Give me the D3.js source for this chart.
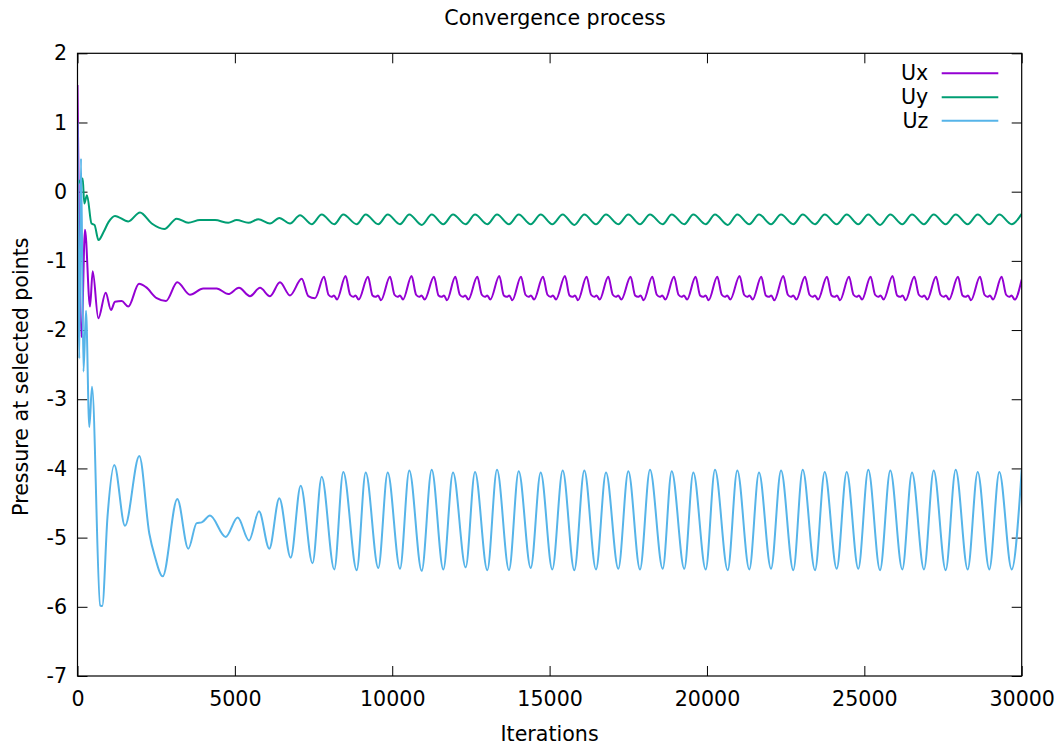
<!DOCTYPE html>
<html><head><meta charset="utf-8">
<script src="https://cdn.jsdelivr.net/npm/d3@7"></script>
<style>
body{margin:0;background:#fff}
svg{display:block}
text{font-family:"DejaVu Sans",sans-serif}
</style>
</head><body>
<svg id="chart" width="1062" height="746"></svg>
<script>
// ---------- data ----------
const xTickValues = [0, 5000, 10000, 15000, 20000, 25000, 30000];
const yTickValues = [-7, -6, -5, -4, -3, -2, -1, 0, 1, 2];
const seriesNames = ["Ux", "Uy", "Uz"];
const seriesColors = ["#9400d3", "#009e73", "#56b4e9"];
const chartTitle = "Convergence process";
const xTitle = "Iterations";
const yTitle = "Pressure at selected points";

// [iteration, value]
const uxPoints = [
  [0,1.54],[127,-2.1],[238,-0.55],[397,-1.66],[483,-1.15],[661,-1.83],[896,-1.46],[1064,-1.71],
  [1191,-1.59],[1404,-1.58],[1614,-1.66],[1954,-1.33],[2176,-1.38],[2516,-1.54],[2812,-1.58],
  [3171,-1.31],[3574,-1.49],[3997,-1.40],[4423,-1.40],[4791,-1.48],[5131,-1.39],[5481,-1.51],
  [5799,-1.39],[6116,-1.51],[6434,-1.31],[6752,-1.50],[7124,-1.26],[7333,-1.51],[7546,-1.54],
  [7832,-1.23],[7975,-1.49],[8070,-1.52],[8150,-1.50],[8245,-1.56],
  [8518,-1.22],[8661,-1.49],[8756,-1.52],[8836,-1.50],[8931,-1.56],
  [9230,-1.23],[9373,-1.50],[9468,-1.52],[9548,-1.50],[9643,-1.57],
  [9929,-1.23],[10072,-1.49],[10167,-1.52],[10247,-1.50],[10342,-1.56],
  [10615,-1.22],[10758,-1.49],[10853,-1.52],[10933,-1.50],[11028,-1.56],
  [11327,-1.23],[11470,-1.50],[11565,-1.52],[11645,-1.50],[11740,-1.57],
  [12004,-1.23],[12147,-1.49],[12242,-1.52],[12322,-1.50],[12417,-1.56],
  [12703,-1.23],[12846,-1.49],[12941,-1.52],[13021,-1.50],[13116,-1.56],
  [13402,-1.22],[13545,-1.50],[13640,-1.52],[13720,-1.50],[13815,-1.57],
  [14091,-1.23],[14234,-1.49],[14329,-1.52],[14409,-1.50],[14504,-1.56],
  [14790,-1.23],[14933,-1.49],[15028,-1.52],[15108,-1.50],[15203,-1.56],
  [15489,-1.22],[15632,-1.50],[15727,-1.52],[15807,-1.50],[15902,-1.57],
  [16176,-1.23],[16319,-1.49],[16414,-1.52],[16494,-1.50],[16589,-1.56],
  [16865,-1.23],[17008,-1.49],[17103,-1.52],[17183,-1.50],[17278,-1.56],
  [17574,-1.23],[17717,-1.50],[17812,-1.52],[17892,-1.50],[17987,-1.57],
  [18263,-1.23],[18406,-1.49],[18501,-1.52],[18581,-1.50],[18676,-1.56],
  [18953,-1.23],[19096,-1.49],[19191,-1.52],[19271,-1.50],[19366,-1.56],
  [19639,-1.23],[19782,-1.50],[19877,-1.52],[19957,-1.50],[20052,-1.57],
  [20328,-1.23],[20471,-1.49],[20566,-1.52],[20646,-1.50],[20741,-1.56],
  [21037,-1.22],[21180,-1.49],[21275,-1.52],[21355,-1.50],[21450,-1.56],
  [21726,-1.23],[21869,-1.50],[21964,-1.52],[22044,-1.50],[22139,-1.57],
  [22426,-1.22],[22569,-1.49],[22664,-1.52],[22744,-1.50],[22839,-1.56],
  [23115,-1.23],[23258,-1.49],[23353,-1.52],[23433,-1.50],[23528,-1.56],
  [23814,-1.23],[23957,-1.50],[24052,-1.52],[24132,-1.50],[24227,-1.57],
  [24513,-1.23],[24656,-1.49],[24751,-1.52],[24831,-1.50],[24926,-1.56],
  [25199,-1.23],[25342,-1.49],[25437,-1.52],[25517,-1.50],[25612,-1.56],
  [25898,-1.22],[26041,-1.50],[26136,-1.52],[26216,-1.50],[26311,-1.57],
  [26588,-1.23],[26731,-1.49],[26826,-1.52],[26906,-1.50],[27001,-1.56],
  [27277,-1.23],[27420,-1.49],[27515,-1.52],[27595,-1.50],[27690,-1.56],
  [27976,-1.23],[28119,-1.50],[28214,-1.52],[28294,-1.50],[28389,-1.57],
  [28675,-1.23],[28818,-1.49],[28913,-1.52],[28993,-1.50],[29088,-1.56],
  [29362,-1.23],[29505,-1.49],[29600,-1.52],[29680,-1.50],[29775,-1.56],
  [30000,-1.27]
];

const uyPoints = [
  [0,0.10],[165,0.19],[216,-0.17],[302,-0.05],[445,-0.46],[540,-0.48],[667,-0.70],[832,-0.58],
  [985,-0.44],[1191,-0.35],[1614,-0.43],[1986,-0.30],[2358,-0.46],[2758,-0.54],[3152,-0.39],
  [3520,-0.45],[3892,-0.41],[4369,-0.41],[4791,-0.45],[5058,-0.41],[5427,-0.45],[5745,-0.40],
  [6116,-0.46],[6412,-0.38],[6752,-0.46],[7070,-0.34],[7441,-0.47],[7759,-0.33],
  [8159,-0.47],[8445,-0.33],[8871,-0.47],[9157,-0.33],[9557,-0.47],[9856,-0.33],
  [10247,-0.47],[10542,-0.33],[10936,-0.48],[11254,-0.33],[11623,-0.47],[11931,-0.33],
  [12334,-0.47],[12630,-0.33],[13021,-0.47],[13329,-0.33],[13710,-0.47],[14018,-0.33],
  [14400,-0.47],[14717,-0.33],[15086,-0.47],[15416,-0.33],[15785,-0.48],[16103,-0.33],
  [16474,-0.47],[16792,-0.33],[17183,-0.47],[17501,-0.33],[17872,-0.47],[18190,-0.33],
  [18594,-0.47],[18880,-0.33],[19280,-0.47],[19566,-0.33],[19960,-0.47],[20255,-0.33],
  [20659,-0.48],[20964,-0.33],[21345,-0.47],[21653,-0.33],[22035,-0.47],[22353,-0.33],
  [22743,-0.47],[23042,-0.33],[23433,-0.47],[23741,-0.33],[24122,-0.47],[24440,-0.33],
  [24808,-0.47],[25126,-0.33],[25498,-0.48],[25825,-0.33],[26206,-0.47],[26515,-0.33],
  [26896,-0.47],[27204,-0.33],[27585,-0.47],[27903,-0.33],[28284,-0.47],[28602,-0.33],
  [28971,-0.47],[29289,-0.33],[29682,-0.47],[30000,-0.32]
];

const uzPoints = [
  [0,1.0],[57,-2.41],[111,0.48],[190,-2.6],[270,-1.72],[375,-3.40],[461,-2.82],[721,-5.98],
  [785,-5.99],[953,-4.70],[1169,-3.95],[1509,-4.83],[1964,-3.82],[2281,-4.94],[2462,-5.28],
  [2707,-5.56],[3171,-4.44],[3520,-5.16],[3787,-4.79],[3946,-4.78],[4210,-4.68],[4709,-4.99],
  [5090,-4.71],[5449,-5.04],[5767,-4.62],[6094,-5.16],[6412,-4.43],[6774,-5.29],[7092,-4.25],
  [7467,-5.37],[7759,-4.12],
  [8159,-5.46],[8445,-4.05],[8871,-5.47],[9157,-4.06],[9557,-5.44],[9856,-4.06],
  [10247,-5.45],[10542,-4.03],[10936,-5.48],[11254,-4.02],[11623,-5.46],[11931,-4.06],
  [12334,-5.43],[12630,-4.05],[13021,-5.47],[13329,-4.02],[13710,-5.47],[14018,-4.04],
  [14400,-5.44],[14717,-4.06],[15086,-5.46],[15416,-4.03],[15785,-5.47],[16103,-4.03],
  [16474,-5.46],[16792,-4.06],[17183,-5.45],[17501,-4.04],[17872,-5.46],[18190,-4.02],
  [18594,-5.45],[18880,-4.04],[19280,-5.45],[19566,-4.06],[19960,-5.46],[20255,-4.02],
  [20659,-5.47],[20964,-4.03],[21345,-5.46],[21653,-4.06],[22035,-5.45],[22353,-4.03],
  [22743,-5.47],[23042,-4.02],[23433,-5.47],[23741,-4.05],[24122,-5.45],[24440,-4.05],
  [24808,-5.45],[25126,-4.02],[25498,-5.47],[25825,-4.03],[26206,-5.46],[26515,-4.06],
  [26896,-5.46],[27204,-4.03],[27585,-5.47],[27903,-4.02],[28284,-5.46],[28602,-4.05],
  [28971,-5.46],[29289,-4.05],[29682,-5.46],[30000,-4.02]
];

const seriesData = [uxPoints, uyPoints, uzPoints];

// ---------- drawing ----------
const FONT = "'DejaVu Sans', sans-serif";
const FS = 20.6;
const svg = d3.select("#chart");
const plot = {left: 77.5, right: 1021.7, top: 53.3, bottom: 676};

const x = d3.scaleLinear().domain([0, 30000]).range([plot.left, plot.right]);
const y = d3.scaleLinear().domain([-7, 2]).range([plot.bottom, plot.top]);
const plainFmt = d => String(d);

svg.append("rect").attr("width", 1062).attr("height", 746).attr("fill", "#fff");

svg.append("defs").append("clipPath").attr("id", "clip")
  .append("rect").attr("x", plot.left).attr("y", plot.top)
  .attr("width", plot.right - plot.left).attr("height", plot.bottom - plot.top);

function styleAxis(g) {
  g.attr("font-family", FONT).attr("font-size", FS);
  g.select(".domain").remove();
  g.selectAll(".tick line").attr("stroke", "#000").attr("stroke-width", 1);
  g.selectAll(".tick text").attr("fill", "#000");
}

svg.append("g").attr("transform", `translate(0,${plot.bottom})`)
  .call(d3.axisBottom(x).tickValues(xTickValues).tickSize(-10).tickPadding(15.5).tickFormat(plainFmt))
  .call(styleAxis);
svg.append("g").attr("transform", `translate(0,${plot.top})`)
  .call(d3.axisTop(x).tickValues(xTickValues).tickSize(-10).tickFormat(""))
  .call(styleAxis);
svg.append("g").attr("transform", `translate(${plot.left},0)`)
  .call(d3.axisLeft(y).tickValues(yTickValues).tickSize(-10).tickPadding(10.5).tickFormat(plainFmt))
  .call(styleAxis);
svg.append("g").attr("transform", `translate(${plot.right},0)`)
  .call(d3.axisRight(y).tickValues(yTickValues).tickSize(-10).tickFormat(""))
  .call(styleAxis);

const line = d3.line()
  .x(d => x(d[0])).y(d => y(d[1]))
  .curve(d3.curveMonotoneX);

const linesG = svg.append("g").attr("clip-path", "url(#clip)");
seriesData.forEach((pts, i) => {
  linesG.append("path").datum(pts)
    .attr("d", line)
    .attr("fill", "none")
    .attr("stroke", seriesColors[i])
    .attr("stroke-width", 2)
    .attr("stroke-linejoin", "round");
});

// border
svg.append("rect")
  .attr("x", plot.left).attr("y", plot.top)
  .attr("width", plot.right - plot.left).attr("height", plot.bottom - plot.top)
  .attr("fill", "none").attr("stroke", "#000").attr("stroke-width", 1.2);

// legend
const legendY = [73.3, 97.3, 120.7];
seriesNames.forEach((name, i) => {
  svg.append("text").attr("x", 928.3).attr("y", legendY[i])
    .attr("text-anchor", "end").attr("dominant-baseline", "central")
    .attr("font-family", FONT).attr("font-size", FS).attr("fill", "#000").text(name);
  svg.append("line").attr("x1", 941.7).attr("x2", 998.3)
    .attr("y1", legendY[i]).attr("y2", legendY[i])
    .attr("stroke", seriesColors[i]).attr("stroke-width", 2);
});

// titles
svg.append("text").attr("x", 555).attr("y", 25).attr("text-anchor", "middle")
  .attr("font-family", FONT).attr("font-size", FS).attr("fill", "#000").text(chartTitle);
svg.append("text").attr("x", 549.6).attr("y", 741).attr("text-anchor", "middle")
  .attr("font-family", FONT).attr("font-size", FS).attr("fill", "#000").text(xTitle);
svg.append("text").attr("transform", "translate(28,376.7) rotate(-90)").attr("text-anchor", "middle")
  .attr("font-family", FONT).attr("font-size", FS).attr("fill", "#000").text(yTitle);
</script>
</body></html>
